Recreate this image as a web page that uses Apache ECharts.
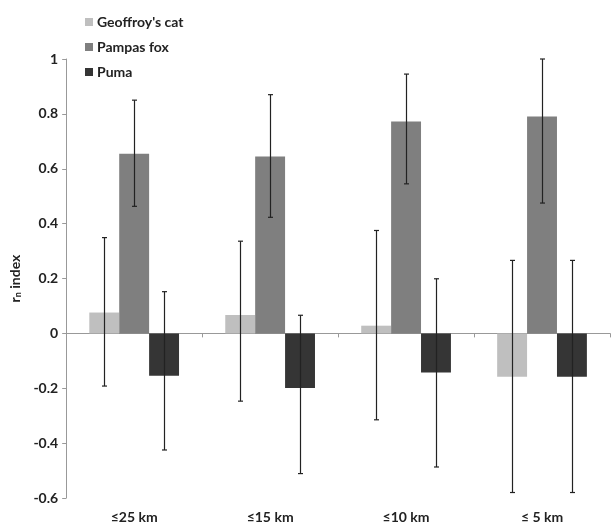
<!DOCTYPE html>
<html>
<head>
<meta charset="utf-8">
<script src="https://cdn.jsdelivr.net/npm/echarts@6/dist/echarts.min.js"></script>
<style>html,body{margin:0;padding:0;background:#fff}#c{width:614px;height:528px}</style>
</head>
<body>
<div id="c"></div>
<script>
const categories = ['≤25 km', '≤15 km', '≤10 km', '≤ 5 km'];
const seriesNames = ["Geoffroy's cat", 'Pampas fox', 'Puma'];
const catValues = [0.076, 0.067, 0.028, -0.158];
const foxValues = [0.655, 0.645, 0.772, 0.79];
const pumaValues = [-0.154, -0.199, -0.143, -0.158];
const catLow = [-0.192, -0.247, -0.315, -0.58];
const catHigh = [0.349, 0.336, 0.375, 0.266];
const foxLow = [0.463, 0.423, 0.545, 0.475];
const foxHigh = [0.85, 0.87, 0.945, 1.0];
const pumaLow = [-0.425, -0.511, -0.487, -0.58];
const pumaHigh = [0.152, 0.066, 0.199, 0.266];
const yTicks = { min: -0.6, max: 1, interval: 0.2 };

const colors = ['#bfbfbf', '#7f7f7f', '#353535'];
const font = 'Lato';
const fs = 14;
const gapFrac = 0.34;

function errData(lo, hi, s) {
  return categories.map((c, i) => [i, lo[i], hi[i], s]);
}
const errAll = [].concat(errData(catLow, catHigh, 0), errData(foxLow, foxHigh, 1), errData(pumaLow, pumaHigh, 2));

function renderErr(params, api) {
  const idx = api.value(0);
  const s = api.value(3);
  const band = api.size([1, 0])[0];
  const bw = band * (1 - gapFrac) / 3;
  const off = (s - 1) * bw;
  const lo = api.coord([idx, api.value(1)]);
  const hi = api.coord([idx, api.value(2)]);
  const x = Math.round(lo[0] + off) + 0.5;
  const cap = 2.5;
  const st = { stroke: '#222', lineWidth: 1.2 };
  return {
    type: 'group',
    children: [
      { type: 'line', shape: { x1: x, y1: hi[1], x2: x, y2: lo[1] }, style: st },
      { type: 'line', shape: { x1: x - cap, y1: hi[1], x2: x + cap, y2: hi[1] }, style: st },
      { type: 'line', shape: { x1: x - cap, y1: lo[1], x2: x + cap, y2: lo[1] }, style: st }
    ]
  };
}

const chart = echarts.init(document.getElementById('c'));
chart.setOption({
  animation: false,
  backgroundColor: '#fff',
  textStyle: { fontFamily: font },
  legend: {
    orient: 'vertical', left: 80, top: 10, itemGap: 11,
    itemWidth: 8, itemHeight: 8, icon: 'rect',
    textStyle: { fontFamily: font, fontSize: fs, fontWeight: 'bold', color: '#222', padding: [0, 0, 0, -1] },
    data: seriesNames
  },
  grid: { left: 62, right: 4, top: 59, bottom: 30 },
  xAxis: [
    {
      type: 'category', data: categories, position: 'bottom',
      axisLine: { show: false, onZero: false }, axisTick: { show: false },
      axisLabel: { fontFamily: font, fontSize: fs, fontWeight: 'bold', color: '#222', margin: 12 }
    },
    {
      type: 'category', data: categories, position: 'bottom',
      axisLine: { show: true, onZero: true, lineStyle: { color: '#999', width: 1 } },
      axisTick: { show: true, length: 4, lineStyle: { color: '#999' } },
      axisLabel: { show: false }
    }
  ],
  yAxis: {
    type: 'value', min: yTicks.min, max: yTicks.max, interval: yTicks.interval,
    name: '{a|r}{b|n}{a| index}', nameLocation: 'middle', nameGap: 34, nameRotate: 90,
    nameTextStyle: { rich: { a: { fontFamily: font, fontSize: fs, fontWeight: 'bold', color: '#222' }, b: { fontFamily: font, fontSize: 9, fontWeight: 'bold', color: '#222', verticalAlign: 'bottom', padding: [6, 0, 0, 0] } } },
    splitLine: { show: false },
    axisLine: { show: true, lineStyle: { color: '#999' } },
    axisTick: { show: true, length: 4, lineStyle: { color: '#999' } },
    axisLabel: { fontFamily: font, fontSize: fs, fontWeight: 'bold', color: '#222', margin: 8 }
  },
  series: [
    { name: seriesNames[0], type: 'bar', data: catValues, itemStyle: { color: colors[0] }, barGap: '0%', barCategoryGap: (gapFrac * 100) + '%' },
    { name: seriesNames[1], type: 'bar', data: foxValues, itemStyle: { color: colors[1] }, barGap: '0%', barCategoryGap: (gapFrac * 100) + '%' },
    { name: seriesNames[2], type: 'bar', data: pumaValues, itemStyle: { color: colors[2] }, barGap: '0%', barCategoryGap: (gapFrac * 100) + '%' },
    { type: 'custom', renderItem: renderErr, data: errAll, encode: { x: 0, y: [1, 2] }, z: 10, silent: true }
  ]
});
</script>
</body>
</html>
